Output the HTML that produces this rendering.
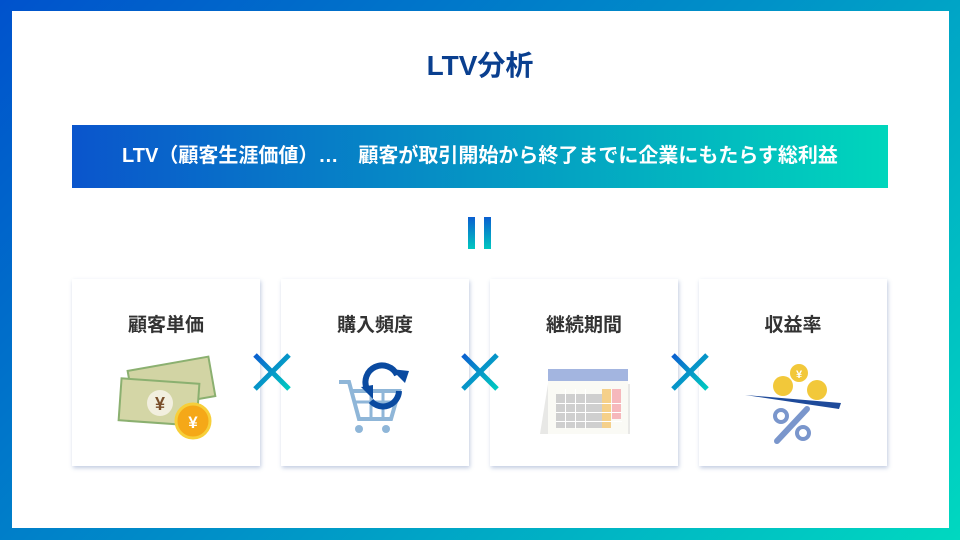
<!DOCTYPE html>
<html><head><meta charset="utf-8"><style>
*{margin:0;padding:0;box-sizing:border-box}
body{width:960px;height:540px;overflow:hidden;background:linear-gradient(135deg,#0052cc 0%,#0090c8 50%,#00d8c0 100%);position:relative;font-family:"Liberation Sans","Noto Sans CJK JP",sans-serif}
.inner{position:absolute;left:12px;top:11px;width:937px;height:517px;background:#fff}
.title{position:absolute;left:0;width:960px;top:44px;text-align:center;font-size:28px;font-weight:bold;color:#0a3f8f}
.banner{position:absolute;left:72px;top:125px;width:816px;height:63px;background:linear-gradient(90deg,#0a55cc,#00d6bc);color:#fff;font-size:20px;font-weight:bold;text-align:center;line-height:63px;white-space:nowrap}
.eq{position:absolute;top:217px;width:7px;height:32px;background:linear-gradient(180deg,#0b5fd0,#00c8c0)}
.card{position:absolute;top:279px;width:188px;height:187px;background:#fff;box-shadow:1px 2px 4px rgba(80,110,170,.35)}
.card .t{position:absolute;top:31px;width:100%;text-align:center;font-size:19px;font-weight:bold;color:#333}
.x{position:absolute;top:352px;width:40px;height:40px}
svg{position:absolute}
</style></head><body>
<div class="inner"></div>
<div class="title">LTV分析</div>
<div class="banner">LTV（顧客生涯価値）…　顧客が取引開始から終了までに企業にもたらす総利益</div>
<div class="eq" style="left:468px"></div><div class="eq" style="left:484px"></div>

<div class="card" style="left:72px"><div class="t">顧客単価</div>
<svg width="188" height="187" viewBox="0 0 188 187">
<g transform="rotate(-10 80 115)"><rect x="60" y="88" width="82" height="40" fill="#d2d4a4" stroke="#8bb070" stroke-width="2"/></g>
<rect x="48" y="102" width="78" height="42" fill="#d4d6a6" stroke="#8bb070" stroke-width="2" transform="rotate(4 87 123)"/>
<circle cx="88" cy="124" r="13" fill="#f2efdf"/><text x="88" y="131" text-anchor="middle" font-size="18" font-weight="bold" fill="#7a4e2a">¥</text>
<circle cx="121" cy="142" r="17" fill="#f5a818" stroke="#f7cf3a" stroke-width="3"/><text x="121" y="149" text-anchor="middle" font-size="17" font-weight="bold" fill="#fff">¥</text>
</svg></div>

<div class="card" style="left:281px"><div class="t">購入頻度</div>
<svg width="188" height="187" viewBox="0 0 188 187">
<path d="M58 103 H68 L78 140 H110 L118 112 H72" fill="none" stroke="#8fb6d8" stroke-width="4"/>
<path d="M75 123 H114 M90 112 V140 M102 112 V140" stroke="#8fb6d8" stroke-width="3"/>
<circle cx="78" cy="150" r="4" fill="#8fb6d8"/><circle cx="105" cy="150" r="4" fill="#8fb6d8"/>
<path d="M86 110 A16 16 0 0 1 116 96" fill="none" stroke="#0a4aa0" stroke-width="6"/>
<path d="M118 112 A16 16 0 0 1 90 122" fill="none" stroke="#0a4aa0" stroke-width="6"/>
<path d="M110 90 L124 104 L128 92 Z" fill="#0a4aa0"/><path d="M80 108 L92 106 L92 120 Z" fill="#0a4aa0"/>
</svg></div>

<div class="card" style="left:490px"><div class="t">継続期間</div>
<svg width="188" height="187" viewBox="0 0 188 187">
<path d="M58 105 L50 155 H140 L140 105 Z" fill="#e8e8e6"/>
<rect x="58" y="100" width="80" height="55" fill="#fafaf5"/>
<rect x="58" y="90" width="80" height="12" fill="#a3b5e0"/>
<g fill="#cfcfcf"><rect x="66" y="115" width="55" height="34"/></g>
<rect x="112" y="110" width="9" height="39" fill="#f5d08a"/><rect x="122" y="110" width="9" height="30" fill="#f6b8bc"/>
<g fill="#fff"><rect x="75" y="110" width="1" height="40"/><rect x="85" y="110" width="1" height="40"/><rect x="95" y="110" width="1" height="40"/><rect x="66" y="124" width="66" height="1"/><rect x="66" y="133" width="66" height="1"/><rect x="66" y="142" width="66" height="1"/></g>
</svg></div>

<div class="card" style="left:699px"><div class="t">収益率</div>
<svg width="188" height="187" viewBox="0 0 188 187">
<path d="M46 116 L142 124 L140 130 Z" fill="#1e4a9a"/>
<circle cx="84" cy="107" r="10" fill="#f2c83a"/><circle cx="100" cy="94" r="9" fill="#f2c83a"/><circle cx="118" cy="111" r="10" fill="#f2c83a"/>
<text x="100" y="99" text-anchor="middle" font-size="11" font-weight="bold" fill="#fff">¥</text>
<path d="M78 162 L108 130" stroke="#7a96cc" stroke-width="6" stroke-linecap="round"/>
<circle cx="82" cy="137" r="6" fill="none" stroke="#7a96cc" stroke-width="4"/><circle cx="104" cy="154" r="6" fill="none" stroke="#7a96cc" stroke-width="4"/>
</svg></div>

<svg class="x" style="left:252px" viewBox="0 0 40 40"><defs><linearGradient id="g" x1="0" y1="0" x2="1" y2="1"><stop offset="0" stop-color="#0b5fd0"/><stop offset="1" stop-color="#00ccc0"/></linearGradient></defs><path d="M3 3 L37 37 M37 3 L3 37" stroke="url(#g)" stroke-width="5"/></svg>
<svg class="x" style="left:460px" viewBox="0 0 40 40"><path d="M3 3 L37 37 M37 3 L3 37" stroke="url(#g)" stroke-width="5"/></svg>
<svg class="x" style="left:670px" viewBox="0 0 40 40"><path d="M3 3 L37 37 M37 3 L3 37" stroke="url(#g)" stroke-width="5"/></svg>
</body></html>
